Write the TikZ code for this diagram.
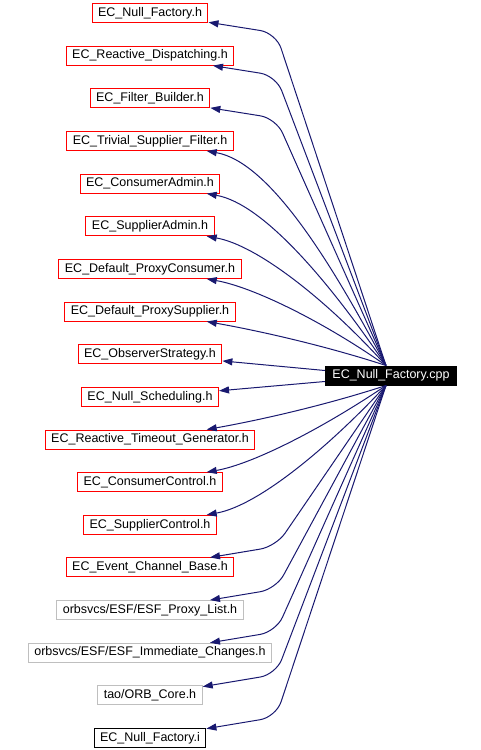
\documentclass[tikz,border=0pt]{standalone}
\usepackage{fontspec}
\setmainfont{Liberation Sans}
\usetikzlibrary{arrows.meta}
\definecolor{edgeblue}{RGB}{25,25,112}

\begin{document}
\begin{tikzpicture}[x=1pt,y=1pt,->,>={Triangle[length=10pt,width=7pt]},node distance=42.65pt,
                    line width=1pt,
                    file node/.style={rectangle,draw,fill=white,minimum height=19pt,inner xsep=6pt,inner ysep=0pt,font=\fontsize{12.5}{15}\selectfont},
                    red node/.style={file node,draw=red},
                    grey node/.style={file node,draw=black!25},
                    plain node/.style={file node,draw=black},
                    main node/.style={file node,draw=black,fill=black,text=white,inner xsep=7pt},
                    kink up/.style={rounded corners=16pt,to path={-- ([yshift=-10pt]\tikztotarget.south -| kink) -- (\tikztotarget)}},
                    kink down/.style={rounded corners=16pt,to path={-- ([yshift=11pt]\tikztotarget.north -| kink) -- (\tikztotarget)}},
                    sweep/.style={out looseness=1,in looseness=0.6}]

  \useasboundingbox[-] (0,0) rectangle (481,-750);
  \coordinate (kink) at (276,0);

  \node[red node] (n1) at (150,-13) {EC\_Null\_Factory.h};
  \node[red node] (n2) [below of=n1] {EC\_Reactive\_Dispatching.h};
  \node[red node] (n3) [below of=n2] {EC\_Filter\_Builder.h};
  \node[red node] (n4) [below of=n3] {EC\_Trivial\_Supplier\_Filter.h};
  \node[red node] (n5) [below of=n4] {EC\_ConsumerAdmin.h};
  \node[red node] (n6) [below of=n5] {EC\_SupplierAdmin.h};
  \node[red node] (n7) [below of=n6] {EC\_Default\_ProxyConsumer.h};
  \node[red node] (n8) [below of=n7] {EC\_Default\_ProxySupplier.h};
  \node[red node] (n9) [below of=n8] {EC\_ObserverStrategy.h};
  \node[red node] (n10) [below of=n9] {EC\_Null\_Scheduling.h};
  \node[red node] (n11) [below of=n10] {EC\_Reactive\_Timeout\_Generator.h};
  \node[red node] (n12) [below of=n11] {EC\_ConsumerControl.h};
  \node[red node] (n13) [below of=n12] {EC\_SupplierControl.h};
  \node[red node] (n14) [below of=n13] {EC\_Event\_Channel\_Base.h};
  \node[grey node] (n15) [below of=n14] {orbsvcs/ESF/ESF\_Proxy\_List.h};
  \node[grey node] (n16) [below of=n15] {orbsvcs/ESF/ESF\_Immediate\_Changes.h};
  \node[grey node] (n17) [below of=n16] {tao/ORB\_Core.h};
  \node[plain node] (n18) [below of=n17] {EC\_Null\_Factory.i};

  \node[main node] (cpp) at (391,-375.5) {EC\_Null\_Factory.cpp};

  \path[every edge/.style={draw=edgeblue}]
    ([xshift=-5pt]cpp.north)
        edge [kink up] (n1)
        edge [kink up] (n2)
        edge [kink up] (n3)
        edge [sweep,out=118,in=-10] (n4)
        edge [sweep,out=124,in=-10] (n5)
        edge [sweep,out=132,in=-10] (n6)
        edge [sweep,out=145,in=-10] (n7)
        edge [sweep,out=162,in=-10] (n8)
    ([yshift=5pt]cpp.west)
        edge (n9)
    ([yshift=-6pt]cpp.west)
        edge (n10)
    ([xshift=-5pt]cpp.south)
        edge [sweep,out=198,in=10] (n11)
        edge [sweep,out=214,in=10] (n12)
        edge [sweep,out=227,in=10] (n13)
        edge [kink down] (n14)
        edge [kink down] (n15)
        edge [kink down] (n16)
        edge [kink down] (n17)
        edge [kink down] (n18);
\end{tikzpicture}
\end{document}
